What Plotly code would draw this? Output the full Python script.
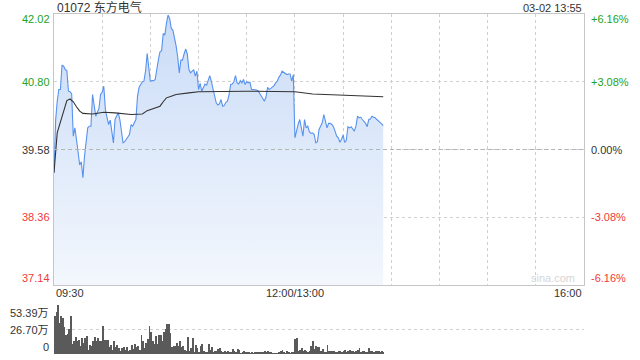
import plotly.graph_objects as go

# ---------------- data ----------------
stock_title = "01072 东方电气"
timestamp = "03-02 13:55"
prev_close = 39.58
price_ticks = [37.14, 38.36, 39.58, 40.80, 42.02]
grid_minutes = list(range(0, 331, 30))
time_tick_minutes = [0, 150, 330]
time_tick_labels = ["09:30", "12:00/13:00", "16:00"]
vol_max = 53.39
vol_ticks = [0, 26.70, 53.39]
vol_tick_labels = ["0", "26.70万", "53.39万"]

# one price per minute, 09:30-11:59 (minutes 0-149)
price_am = [
    39.16, 40.10, 40.45, 40.66, 40.66, 41.10, 41.08, 41.02, 41.00, 40.63,
    40.62, 40.58, 39.82, 39.97, 39.76, 39.52, 39.30, 39.36, 39.07, 39.46,
    39.70, 39.97, 40.00, 40.00, 40.57, 40.36, 40.18, 40.25, 40.32, 40.57,
    40.61, 40.72, 40.30, 40.16, 40.03, 40.11, 39.93, 39.70, 40.12, 40.20,
    40.24, 40.12, 39.88, 39.70, 39.72, 39.76, 39.80, 39.85, 40.03, 40.00,
    40.06, 40.12, 40.54, 40.70, 40.75, 40.80, 40.81, 40.99, 41.31, 41.10,
    40.81, 40.82, 40.82, 40.84, 41.05, 41.20, 41.34, 41.36, 41.67, 41.64,
    41.85, 42.00, 41.94, 41.76, 41.73, 41.60, 41.45, 41.25, 40.96, 41.19,
    41.19, 41.30, 41.39, 41.30, 41.02, 40.96, 41.00, 41.02, 40.90, 40.99,
    40.66, 40.77, 40.63, 40.70, 40.76, 40.74, 40.85, 40.91, 40.80, 40.65,
    40.55, 40.42, 40.38, 40.40, 40.48, 40.36, 40.37, 40.43, 40.45, 40.57,
    40.75, 40.76, 40.80, 40.91, 40.78, 40.76, 40.82, 40.78, 40.84, 40.75,
    40.80, 40.78, 40.79, 40.66, 40.66, 40.66, 40.65, 40.64, 40.60, 40.55,
    40.50, 40.45, 40.53, 40.70, 40.66, 40.68, 40.70, 40.73, 40.78, 40.81,
    40.88, 40.92, 40.99, 40.97, 40.96, 40.93, 40.94, 40.94, 40.81, 40.93,
]
# one price per minute, 13:00-13:55 (minutes 150-205)
price_pm = [
    39.79, 39.94, 40.03, 40.12, 39.97, 39.82, 40.12, 39.97, 40.00, 39.90,
    39.87, 39.88, 39.85, 39.70, 39.72, 39.94, 40.00, 40.06, 40.21, 40.06,
    39.97, 40.05, 40.05, 40.03, 39.99, 39.91, 39.82, 39.79, 39.71, 39.76,
    39.84, 39.71, 39.74, 39.99, 39.97, 39.99, 39.95, 39.91, 40.00, 40.18,
    40.15, 40.16, 40.12, 40.09, 40.05, 39.99, 40.12, 40.13, 40.18, 40.16,
    40.15, 40.12, 40.10, 40.07, 40.04, 40.01,
]

avg_minutes = [0, 1, 2, 3, 4, 5, 6, 7, 8, 10, 12, 14, 16, 18, 24, 31, 38, 48,
               55, 58, 60, 66, 68, 70, 73, 76, 84, 90, 120, 150, 161, 182, 205]
avg_values = [39.16, 39.60, 39.88, 39.98, 40.08, 40.18, 40.30, 40.40, 40.46,
              40.49, 40.44, 40.35, 40.27, 40.23, 40.22, 40.25, 40.24, 40.21,
              40.22, 40.28, 40.30, 40.36, 40.44, 40.51, 40.54, 40.57, 40.60,
              40.62, 40.63, 40.62, 40.58, 40.55, 40.53]

# volume per minute, in 万
volume = [
    41.9, 45.5, 53.4, 33.6, 41.9, 39.0, 29.2, 20.2, 21.7, 27.0,
    41.9, 10.8, 13.7, 18.8, 13.7, 15.5, 8.3, 17.0, 11.9, 17.3,
    19.1, 4.7, 9.4, 8.3, 14.4, 18.8, 14.4, 17.3, 14.4, 14.4,
    30.7, 15.5, 14.8, 15.0, 7.2, 10.1, 4.7, 14.4, 7.2, 10.1,
    6.5, 3.6, 6.5, 7.2, 4.3, 7.2, 2.9, 4.7, 10.1, 5.8,
    10.8, 7.2, 8.3, 4.7, 20.2, 13.7, 6.5, 11.9, 16.2, 30.0,
    24.5, 13.7, 10.8, 19.1, 10.8, 20.2, 20.2, 13.7, 23.8, 27.0,
    33.2, 32.5, 22.7, 7.2, 8.3, 8.3, 11.9, 8.3, 14.4, 7.2,
    8.3, 4.7, 3.6, 18.8, 2.9, 6.5, 17.3, 2.2, 10.1, 6.5,
    2.2, 8.3, 10.8, 3.6, 2.2, 1.1, 10.8, 4.7, 7.2, 2.2,
    2.9, 3.6, 5.8, 6.5, 2.9, 2.2, 2.9, 2.2, 3.6, 1.1,
    1.1, 5.8, 3.6, 2.2, 5.8, 4.7, 0.7, 1.1, 2.9, 1.1,
    1.4, 1.1, 0.7, 1.1, 0.7, 1.1, 1.8, 1.1, 1.4, 1.1,
    2.2, 2.9, 1.1, 2.9, 2.2, 1.1, 0.7, 0.4, 0.4, 0.7,
    1.1, 3.6, 4.7, 1.1, 0.7, 2.9, 1.1, 0.4, 1.5, 1.1,
    16.2, 17.3, 3.6, 4.7, 6.5, 3.6, 4.7, 3.6, 2.2, 3.6,
    8.3, 13.7, 5.8, 8.3, 7.2, 7.2, 3.6, 5.8, 2.2, 2.2,
    10.1, 3.6, 2.9, 3.6, 2.9, 2.2, 2.2, 3.6, 2.9, 1.1,
    3.6, 4.7, 2.2, 3.6, 4.7, 3.6, 2.9, 2.2, 2.9, 4.7,
    6.5, 2.2, 3.6, 2.9, 1.1, 2.2, 6.5, 3.6, 2.9, 2.2,
    2.9, 3.6, 2.9, 2.2, 2.9, 2.5,
]

# ---------------- styling ----------------
W, H = 640, 360
ML, MR, MT, MB = 54, 56, 14, 6
PLOT_H = H - MT - MB
price_bottom_px = 285
vol_top_px = 305
GREEN = "#23a323"
RED = "#f03a3a"
DARK = "#333333"
FONT = "Liberation Sans, Arial, Noto Sans CJK SC, sans-serif"


def py(px):
    return (H - MB - px) / PLOT_H


def px_x(px):
    return (px - ML) / (W - ML - MR)


prices = price_am + price_pm
minutes = list(range(len(prices)))
vol_minutes = list(range(len(volume)))

fig = go.Figure()

fig.add_trace(go.Scatter(
    x=minutes, y=prices, mode="lines",
    line=dict(color="#5892ee", width=1.1),
    fill="tozeroy",
    fillgradient=dict(type="vertical", start=price_ticks[0], stop=price_ticks[-1],
                      colorscale=[[0, "#f3f7fd"], [1, "#cadcf7"]]),
    xaxis="x", yaxis="y", hoverinfo="skip", showlegend=False,
))
fig.add_trace(go.Scatter(
    x=avg_minutes, y=avg_values, mode="lines",
    line=dict(color="#333333", width=1.1),
    xaxis="x", yaxis="y", hoverinfo="skip", showlegend=False,
))
fig.add_trace(go.Bar(
    x=vol_minutes, y=volume, width=0.5,
    marker=dict(color="#5a5a5a", line=dict(width=0)),
    xaxis="x2", yaxis="y2", hoverinfo="skip", showlegend=False,
))

# zero-change (previous close) dashed line
fig.add_shape(type="line", xref="x", yref="y", x0=grid_minutes[0], x1=grid_minutes[-1],
              y0=prev_close, y1=prev_close,
              line=dict(color="#b5b5b5", width=1, dash="4px,3px"))

annotations = []
# left price labels and right percent labels
for v in price_ticks:
    if v > prev_close + 1e-9:
        col = GREEN
    elif v < prev_close - 1e-9:
        col = RED
    else:
        col = DARK
    if v == price_ticks[-1]:
        ya, yshift = "top", 3
    elif v == price_ticks[0]:
        ya, yshift = "bottom", -1
    else:
        ya, yshift = "middle", 0
    pct = (v - prev_close) / prev_close * 100
    pct_txt = ("+" if pct > 0.0049 else "") + f"{pct:.2f}%"
    annotations.append(dict(x=px_x(52), xref="paper", y=v, yref="y", text=f"{v:.2f}",
                            xanchor="right", yanchor=ya, yshift=yshift, showarrow=False,
                            font=dict(size=11, color=col, family=FONT)))
    annotations.append(dict(x=px_x(589), xref="paper", y=v, yref="y", text=pct_txt,
                            xanchor="left", yanchor=ya, yshift=yshift, showarrow=False,
                            font=dict(size=11, color=col, family=FONT)))

# time labels
for m, lab in zip(time_tick_minutes, time_tick_labels):
    if m == time_tick_minutes[0]:
        xa = "left"
    elif m == time_tick_minutes[-1]:
        xa = "right"
    else:
        xa = "center"
    annotations.append(dict(x=m, xref="x", y=py(293), yref="paper", text=lab,
                            xanchor=xa, yanchor="middle", showarrow=False,
                            font=dict(size=11, color=DARK, family=FONT)))

# volume labels
for v, lab in zip(vol_ticks, vol_tick_labels):
    if v == vol_ticks[-1]:
        ya, ys = "top", 0
    elif v == vol_ticks[0]:
        ya, ys = "bottom", -1
    else:
        ya, ys = "middle", 0
    annotations.append(dict(x=px_x(51), xref="paper", y=v, yref="y2", text=lab,
                            xanchor="right", yanchor=ya, yshift=ys, showarrow=False,
                            font=dict(size=11, color=DARK, family=FONT)))

# title and time stamp
annotations.append(dict(x=px_x(55), xref="paper", y=py(7.5), yref="paper", text=stock_title,
                        xanchor="left", yanchor="middle", showarrow=False,
                        font=dict(size=12, color=DARK, family=FONT)))
annotations.append(dict(x=1, xref="paper", y=py(7.5), yref="paper", text=timestamp,
                        xanchor="right", yanchor="middle", showarrow=False,
                        font=dict(size=11, color=DARK, family=FONT)))
# watermark
annotations.append(dict(x=px_x(553), xref="paper", y=py(278), yref="paper", text="sina.com",
                        xanchor="center", yanchor="middle", showarrow=False,
                        font=dict(size=11, color="#d6d6d6", family=FONT)))

fig.update_layout(
    width=W, height=H,
    margin=dict(l=ML, r=MR, t=MT, b=MB, pad=0),
    paper_bgcolor="white", plot_bgcolor="white",
    bargap=0,
    annotations=annotations,
    xaxis=dict(domain=[0, 1], range=[grid_minutes[0], grid_minutes[-1]],
               tickvals=grid_minutes, showticklabels=False, ticks="",
               showgrid=True, gridcolor="#cfcfcf", griddash="dot", gridwidth=1,
               showline=True, linecolor="#c6c6c6", linewidth=1, mirror=True,
               zeroline=False, anchor="y"),
    yaxis=dict(domain=[py(price_bottom_px), 1], range=[price_ticks[0], price_ticks[-1]],
               tickvals=price_ticks, showticklabels=False, ticks="",
               showgrid=True, gridcolor="#cfcfcf", griddash="dot", gridwidth=1,
               showline=True, linecolor="#c6c6c6", linewidth=1, mirror=True,
               zeroline=False, anchor="x"),
    xaxis2=dict(domain=[0, 1], range=[grid_minutes[0] - 0.5, grid_minutes[-1]],
                showticklabels=False, ticks="", showgrid=False, showline=False,
                zeroline=False, anchor="y2"),
    yaxis2=dict(domain=[0, py(vol_top_px)], range=[0, vol_max],
                tickvals=vol_ticks[1:], showticklabels=False, ticks="",
                showgrid=True, gridcolor="#cfcfcf", griddash="dot", gridwidth=1,
                showline=False, zeroline=False, anchor="x2"),
)

fig.write_html("out.html")
